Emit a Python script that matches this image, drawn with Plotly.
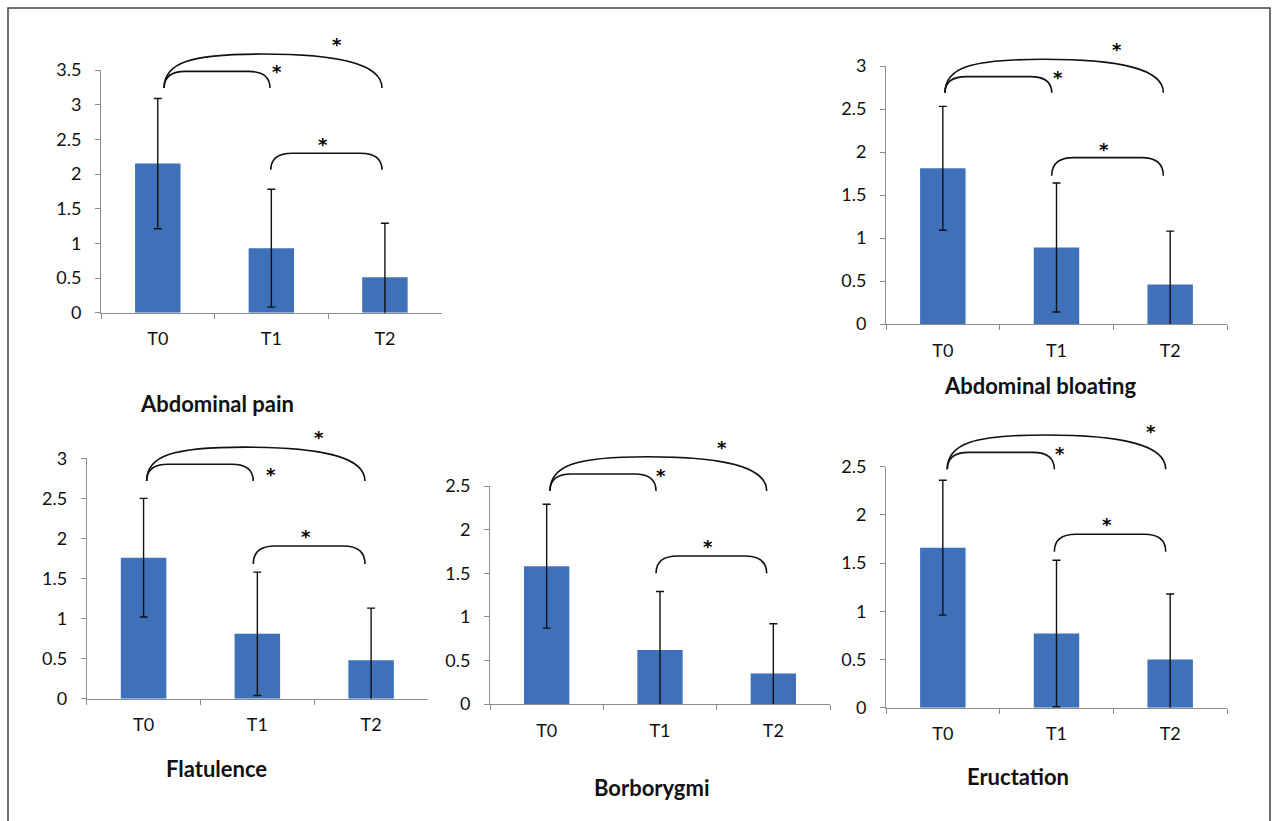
import plotly.graph_objects as go

W, H = 1272, 821

categories = ["T0", "T1", "T2"]

titles = ["Abdominal pain", "Abdominal bloating", "Flatulence", "Borborygmi", "Eructation"]

# mean scores and standard deviations
abdominal_pain = [2.15, 0.93, 0.51]
abdominal_pain_sd = [0.94, 0.85, 0.78]
abdominal_bloating = [1.81, 0.89, 0.46]
abdominal_bloating_sd = [0.72, 0.75, 0.62]
flatulence = [1.76, 0.81, 0.48]
flatulence_sd = [0.74, 0.77, 0.65]
borborygmi = [1.58, 0.62, 0.35]
borborygmi_sd = [0.71, 0.67, 0.57]
eructation = [1.66, 0.77, 0.50]
eructation_sd = [0.70, 0.76, 0.68]

means = [abdominal_pain, abdominal_bloating, flatulence, borborygmi, eructation]
sds = [abdominal_pain_sd, abdominal_bloating_sd, flatulence_sd, borborygmi_sd, eructation_sd]
y_max = [3.5, 3.0, 3.0, 2.5, 2.5]

# panel placement in pixels: x_left, x_right, y of zero line, y of top tick
panels = [
    (101, 441.7, 312.7, 70.0),
    (886, 1227, 324.0, 66.0),
    (86.7, 428, 698.7, 458.3),
    (490, 830, 704.0, 486.0),
    (886, 1227, 707.7, 466.7),
]
title_pos = [(216.7, 403), (1040, 386), (216, 768), (651, 787), (1017.5, 776)]

# significance brackets per panel (category units / score units)
brackets_01 = [(0.055, 0.988, 3.24, 3.48), (0.019, 0.958, 2.69, 2.876), (0.027, 0.964, 2.718, 2.926),
               (0.029, 0.965, 2.443, 2.638), (0.039, 0.981, 2.473, 2.649)]
arcs_02 = [(0.055, 1.974, 3.24, 3.73), (0.019, 1.94, 2.69, 3.078), (0.027, 1.946, 2.718, 3.139),
           (0.029, 1.941, 2.443, 2.836), (0.039, 1.961, 2.473, 2.829)]
brackets_12 = [(0.995, 1.974, 2.06, 2.30), (0.958, 1.94, 1.724, 1.934), (0.964, 1.946, 1.682, 1.906),
               (0.965, 1.941, 1.499, 1.697), (0.981, 1.961, 1.618, 1.799)]
stars_01 = [(1.047, 3.53), (1.01, 2.915), (1.117, 2.846), (1.006, 2.664), (1.031, 2.68)]
stars_02 = [(1.575, 3.925), (1.535, 3.244), (1.539, 3.313), (1.544, 2.982), (1.829, 2.909)]
stars_12 = [(1.455, 2.49), (1.42, 2.08), (1.428, 2.072), (1.426, 1.85), (1.442, 1.947)]

BAR = "#3E71B9"
AXIS = "#8C8C8C"
FONT = "Lato, 'Open Sans', sans-serif"

fig = go.Figure()
layout = dict(
    width=W, height=H, autosize=False,
    margin=dict(l=0, r=0, t=0, b=0, pad=0, autoexpand=False),
    paper_bgcolor="white", plot_bgcolor="white",
    showlegend=False, bargap=0.6,
    font=dict(family=FONT, size=18, color="#111111"),
)
shapes = []
annotations = []


def to_paper(i, xv, yv):
    xl, xr, y0, yt = panels[i]
    xp = xl + (xv + 0.5) / 3.0 * (xr - xl)
    ypx = y0 - yv / y_max[i] * (y0 - yt)
    return xp / W, 1 - ypx / H


def pt(i, xv, yv):
    x, y = to_paper(i, xv, yv)
    return f"{x:.5f},{y:.5f}"


for i in range(5):
    sfx = "" if i == 0 else str(i + 1)
    xl, xr, y0, yt = panels[i]
    fig.add_trace(go.Bar(
        x=categories, y=means[i],
        marker=dict(color=BAR, line=dict(width=0)),
        error_y=dict(type="data", array=sds[i], visible=True,
                     color="#111111", thickness=1.4, width=4),
        xaxis="x" + sfx, yaxis="y" + sfx,
    ))
    layout["xaxis" + sfx] = dict(
        domain=[xl / W, xr / W], anchor="y" + sfx,
        type="category", range=[-0.5, 2.5],
        showline=True, linecolor=AXIS, linewidth=1,
        ticks="outside", tickson="boundaries", ticklen=5, tickcolor=AXIS,
        showgrid=False, zeroline=False, ticklabelstandoff=10, automargin=False,
        tickfont=dict(size=18, family=FONT, color="#111111"),
        fixedrange=True,
    )
    layout["yaxis" + sfx] = dict(
        domain=[1 - y0 / H, 1 - yt / H], anchor="x" + sfx,
        range=[0, y_max[i]], dtick=0.5, tick0=0,
        showline=True, linecolor=AXIS, linewidth=1,
        ticks="outside", ticklen=5, tickcolor=AXIS,
        showgrid=False, zeroline=False, ticklabelstandoff=10, automargin=False,
        tickfont=dict(size=18, family=FONT, color="#111111"),
        fixedrange=True,
    )

    for (xa, xb, yb, ytp) in (brackets_01[i], brackets_12[i]):
        r = 0.19
        path = (f"M {pt(i, xa, yb)} Q {pt(i, xa, ytp)} {pt(i, xa + r, ytp)} "
                f"L {pt(i, xb - r, ytp)} Q {pt(i, xb, ytp)} {pt(i, xb, yb)}")
        shapes.append(dict(type="path", path=path, xref="paper", yref="paper",
                           line=dict(color="#111111", width=1.6)))
    xa, xb, yb, yp = arcs_02[i]
    span = xb - xa
    h = yp - yb
    xm = xa + 0.45 * span
    path = (f"M {pt(i, xa, yb)} C {pt(i, xa, yb + 0.75 * h)} {pt(i, xa + 0.12 * span, yp)} {pt(i, xm, yp)} "
            f"C {pt(i, xm + 0.33 * span, yp)} {pt(i, xb, yb + 0.75 * h)} {pt(i, xb, yb)}")
    shapes.append(dict(type="path", path=path, xref="paper", yref="paper",
                       line=dict(color="#111111", width=1.6)))

    for (sx, sy) in (stars_01[i], stars_02[i], stars_12[i]):
        px_, py_ = to_paper(i, sx, sy)
        annotations.append(dict(text="<b>*</b>", x=px_, y=py_, xref="paper", yref="paper",
                                showarrow=False, xanchor="center", yanchor="middle", yshift=-4,
                                font=dict(size=18, family="DejaVu Sans", color="#000000")))

    tx, ty = title_pos[i]
    annotations.append(dict(text=f"<b>{titles[i]}</b>", x=tx / W, y=1 - ty / H,
                            xref="paper", yref="paper", showarrow=False,
                            xanchor="center", yanchor="middle",
                            font=dict(size=22, family=FONT, color="#111111")))

# outer frame
shapes.append(dict(type="rect", xref="paper", yref="paper",
                   x0=8 / W, x1=1270 / W, y0=-0.05, y1=1 - 8 / H,
                   line=dict(color="#404040", width=1.5)))

layout["shapes"] = shapes
layout["annotations"] = annotations
fig.update_layout(**layout)

fig.write_html("out.html", config={"displayModeBar": False},
               post_script="document.body.style.margin='0';")
